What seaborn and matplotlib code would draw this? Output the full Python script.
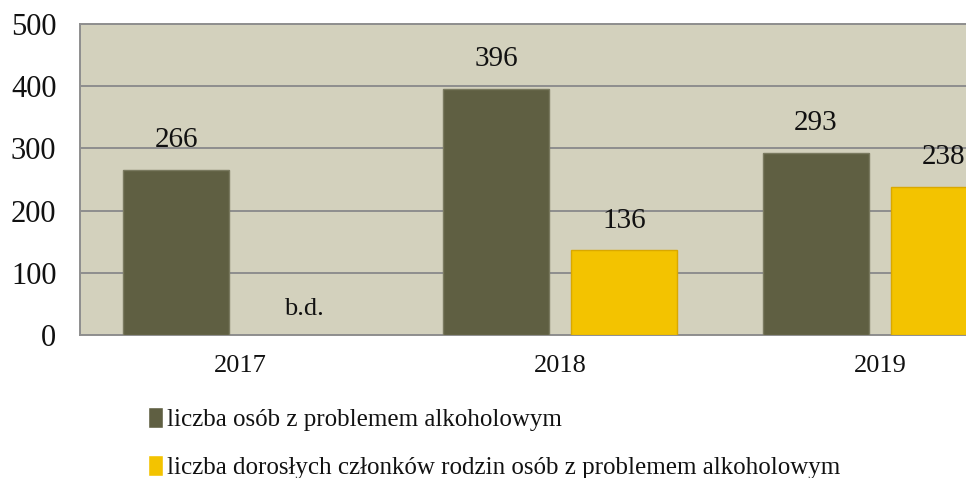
import matplotlib
matplotlib.use("Agg")
import matplotlib.pyplot as plt
import seaborn as sns
import pandas as pd
import numpy as np

years = ["2017", "2018", "2019"]
series_names = [
    "liczba osób z problemem alkoholowym",
    "liczba dorosłych członków rodzin osób z problemem alkoholowym",
]
persons = [266, 396, 293]
family = [np.nan, 136, 238]
yticks = [0, 100, 200, 300, 400, 500]
missing_label = "b.d."

colors = ["#5F5F42", "#F3C300"]
edge_colors = ["#7A7A60", "#D9A800"]

df = pd.DataFrame({
    "year": years * 2,
    "series": [series_names[0]] * 3 + [series_names[1]] * 3,
    "value": persons + family,
})

sns.set_theme(style="white")
plt.rcParams["font.family"] = ["Liberation Serif", "DejaVu Serif"]
plt.rcParams["text.color"] = "#111111"
plt.rcParams["xtick.color"] = "#111111"
plt.rcParams["ytick.color"] = "#111111"

fig = plt.figure(figsize=(9.66, 4.78), dpi=100)
ax = fig.add_axes([80 / 966, 0.299, 960 / 966, 0.651])
ax.set_facecolor("#D3D1BD")

sns.barplot(data=df, x="year", y="value", hue="series", order=years,
            hue_order=series_names, palette=colors, saturation=1,
            width=0.8, gap=0.17, ax=ax, legend=True, zorder=3)

for cont, ec in zip(ax.containers, edge_colors):
    for p in cont.patches:
        p.set_edgecolor(ec)
        p.set_linewidth(1.0)
    labels = ["" if np.isnan(v) else f"{v:.0f}" for v in cont.datavalues]
    ax.bar_label(cont, labels=labels, padding=12, fontsize=21, color="#111111")

# missing-data label for 2017 second series
ax.text(0 + 0.2, 42, missing_label, ha="center", va="center", fontsize=19, color="#111111")

ax.set_ylim(0, 500)
ax.set_xlim(-0.5, 2.5)
ax.set_yticks(yticks)
ax.set_yticklabels([str(t) for t in yticks], fontsize=22)
ax.tick_params(axis="y", length=0, pad=17)
ax.tick_params(axis="x", length=0, pad=14, labelsize=19)
ax.yaxis.grid(True, color="#8E8E8E", linewidth=1.4, zorder=1)
ax.set_axisbelow(True)
ax.set_xlabel("")
ax.set_ylabel("")
for side in ["top", "left", "bottom"]:
    ax.spines[side].set_color("#8E8E8E")
    ax.spines[side].set_linewidth(1.4)
ax.spines["right"].set_visible(False)

handles, labs = ax.get_legend_handles_labels()
ax.legend(handles, labs, loc="upper left", bbox_to_anchor=(148 / 966, 0.148),
          bbox_transform=fig.transFigure, frameon=False, fontsize=18,
          handlelength=0.6, handleheight=0.9, handletextpad=0.15,
          labelspacing=0.95, borderaxespad=0, borderpad=0)

fig.savefig("out.png", dpi=100)
